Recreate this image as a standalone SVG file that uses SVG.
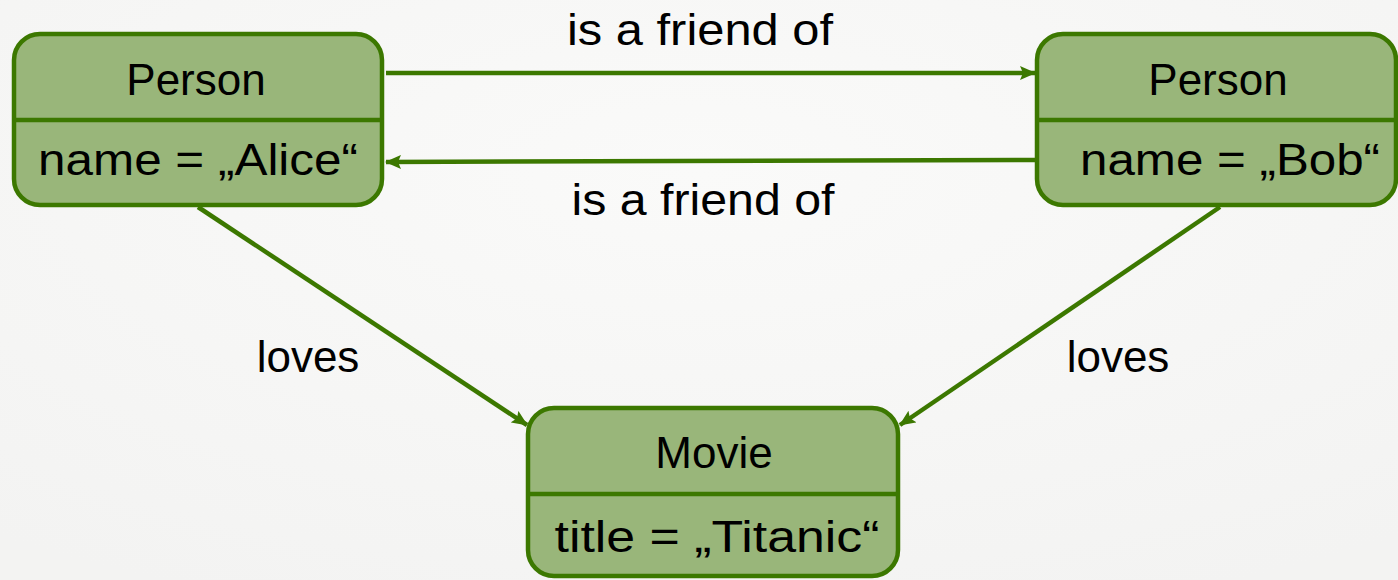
<svg xmlns="http://www.w3.org/2000/svg" width="1398" height="580" viewBox="0 0 1398 580">
<defs>
<marker id="arr" viewBox="0 0 16 14" refX="15" refY="7" markerWidth="16" markerHeight="14" markerUnits="userSpaceOnUse" orient="auto">
<path d="M0,0 L16,7 L0,14 L3,7 Z" fill="#3c7800"/>
</marker>
<radialGradient id="bg" cx="0.5" cy="0.3" r="0.8">
<stop offset="0" stop-color="#fafaf9"/>
<stop offset="1" stop-color="#f3f3f2"/>
</radialGradient>
</defs>
<style>
.box{fill:#99b67a;stroke:#3c7800;stroke-width:4.5}
.div{stroke:#3c7800;stroke-width:4.5}
.t{font-family:"Liberation Sans",Arial,sans-serif;font-size:44px;fill:#000;text-anchor:middle}
.edge{stroke:#3c7800;stroke-width:4.5;fill:none;marker-end:url(#arr)}
</style>
<rect width="1398" height="580" fill="url(#bg)"/>
<g id="connectors">
<line class="edge" x1="386" y1="73" x2="1035" y2="73"/>
<line class="edge" x1="1035" y1="160" x2="386" y2="162"/>
<line class="edge" x1="198" y1="207" x2="527" y2="425"/>
<line class="edge" x1="1220" y1="207" x2="900" y2="425"/>
<text class="t" x="700" y="45" textLength="266" lengthAdjust="spacingAndGlyphs">is a friend of</text>
<text class="t" x="703" y="215" textLength="263" lengthAdjust="spacingAndGlyphs">is a friend of</text>
<text class="t" x="308" y="372">loves</text>
<text class="t" x="1118" y="372">loves</text>
</g>
<g id="alice">
<rect class="box" x="14" y="34" width="368" height="171" rx="26"/>
<line class="div" x1="14" y1="120" x2="382" y2="120"/>
<text class="t" x="196" y="95">Person</text>
<text class="t" x="198" y="175" textLength="320" lengthAdjust="spacingAndGlyphs">name = „Alice“</text>
</g>
<g id="bob">
<rect class="box" x="1037" y="34" width="359" height="171" rx="26"/>
<line class="div" x1="1037" y1="120" x2="1396" y2="120"/>
<text class="t" x="1218" y="95">Person</text>
<text class="t" x="1230" y="175" textLength="300" lengthAdjust="spacingAndGlyphs">name = „Bob“</text>
</g>
<g id="movie">
<rect class="box" x="528" y="408" width="370" height="168" rx="26"/>
<line class="div" x1="528" y1="494" x2="898" y2="494"/>
<text class="t" x="714" y="468">Movie</text>
<text class="t" x="717" y="552" textLength="325" lengthAdjust="spacingAndGlyphs">title = „Titanic“</text>
</g>
</svg>
